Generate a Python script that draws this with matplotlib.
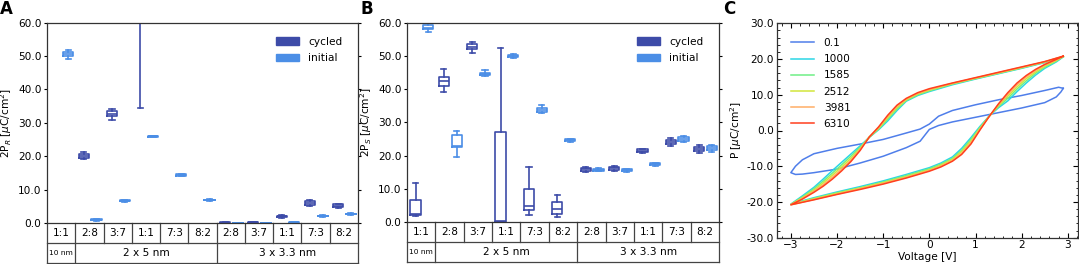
import numpy as np
import matplotlib
matplotlib.use('Agg')
import matplotlib.pyplot as plt
from matplotlib.patches import Patch
from matplotlib.ticker import FormatStrFormatter, AutoMinorLocator, MultipleLocator
import matplotlib.transforms as mtransforms

nan = np.nan

# ---------------- table labels ----------------
ratios = ['1:1', '2:8', '3:7', '1:1', '7:3', '8:2', '2:8', '3:7', '1:1', '7:3', '8:2']
groups = ['10 nm', '2 x 5 nm', '3 x 3.3 nm']
group_sizes = [1, 5, 5]

# ---------------- Panel A: 2P_R ----------------
a_cyc_q1 = [nan, 19.5, 32.0, 70.0, nan, nan, 0.0, 0.1, 1.8, 5.5, 4.9]
a_cyc_med = [nan, 20.0, 32.8, 80.0, nan, nan, 0.1, 0.2, 2.0, 6.0, 5.2]
a_cyc_q3 = [nan, 20.6, 33.5, 90.0, nan, nan, 0.2, 0.3, 2.2, 6.5, 5.6]
a_cyc_lo = [nan, 19.2, 31.0, 34.3, nan, nan, 0.0, 0.0, 1.6, 5.0, 4.5]
a_cyc_hi = [nan, 21.3, 34.2, 120.0, nan, nan, 0.2, 0.4, 2.3, 6.8, 5.8]

a_ini_q1 = [50.0, 0.8, 6.5, 25.9, 14.2, 6.8, 0.0, 0.0, 0.1, 2.0, 2.6]
a_ini_med = [50.5, 1.0, 6.6, 26.0, 14.4, 6.9, 0.05, 0.05, 0.2, 2.1, 2.7]
a_ini_q3 = [51.2, 1.1, 6.8, 26.1, 14.6, 7.0, 0.1, 0.1, 0.25, 2.2, 2.8]
a_ini_lo = [49.2, 0.7, 6.4, 25.8, 14.0, 6.6, 0.0, 0.0, 0.05, 1.9, 2.5]
a_ini_hi = [51.8, 1.2, 6.9, 26.2, 14.8, 7.2, 0.1, 0.1, 0.3, 2.3, 2.9]

# ---------------- Panel B: 2P_S ----------------
b_cyc_q1 = [2.0, 41.0, 52.0, 0.0, 3.5, 2.5, 15.5, 15.8, 21.2, 23.6, 21.5]
b_cyc_med = [2.5, 42.5, 52.7, 0.2, 4.7, 3.9, 16.0, 16.2, 21.5, 24.2, 22.0]
b_cyc_q3 = [6.5, 43.7, 53.5, 27.0, 10.0, 6.0, 16.4, 16.6, 21.9, 24.8, 22.5]
b_cyc_lo = [1.8, 39.0, 50.9, 0.0, 2.2, 1.5, 15.2, 15.5, 20.9, 22.8, 20.8]
b_cyc_hi = [11.8, 46.0, 54.2, 52.3, 16.7, 8.0, 16.7, 16.9, 22.1, 25.4, 23.2]

b_ini_q1 = [58.0, 22.7, 44.2, 49.7, 33.2, 24.3, 15.5, 15.3, 17.1, 24.5, 21.6]
b_ini_med = [58.5, 22.9, 44.6, 50.0, 33.8, 24.6, 15.8, 15.6, 17.4, 25.0, 22.2]
b_ini_q3 = [59.2, 26.2, 45.0, 50.3, 34.3, 24.9, 16.1, 15.9, 17.7, 25.5, 22.8]
b_ini_lo = [57.2, 19.5, 43.9, 49.5, 32.8, 24.1, 15.3, 15.1, 16.9, 24.1, 21.2]
b_ini_hi = [60.0, 27.3, 45.8, 50.5, 35.2, 25.1, 16.3, 16.1, 17.9, 26.0, 23.2]

# ---------------- Panel C: P-V loops ----------------
loop_labels = ['0.1', '1000', '1585', '2512', '3981', '6310']
loop_colors = ['#4F7EEA', '#2BD6E6', '#6FEF86', '#D2E63A', '#FFAE66', '#FF3F1E']

v_up = [2.9, 2.5, 2.0, 1.5, 1.0, 0.5, 0.0, -0.25, -0.5, -0.7, -0.9, -1.1, -1.3, -1.5,
        -1.7, -1.9, -2.1, -2.3, -2.5, -2.75, -3.0]
v_dn = [-3.0, -2.5, -2.0, -1.5, -1.0, -0.5, 0.0, 0.25, 0.5, 0.7, 0.9, 1.1, 1.3, 1.5,
        1.7, 1.9, 2.1, 2.3, 2.5, 2.75, 2.9]

p_up_1000 = [20.6, 19.0, 17.4, 15.9, 14.4, 12.8, 10.9, 9.8, 8.2, 5.6, 2.7, 0.2, -1.9, -4.3,
             -6.6, -8.9, -11.2, -13.6, -15.9, -18.3, -20.6]
p_up_1585 = [20.7, 19.1, 17.5, 16.0, 14.5, 13.0, 11.1, 10.0, 8.4, 6.0, 3.2, 0.4, -1.9, -4.7,
             -7.2, -9.6, -11.9, -14.2, -16.3, -18.6, -20.7]
p_up_2512 = [20.7, 19.2, 17.6, 16.1, 14.6, 13.1, 11.3, 10.2, 8.6, 6.4, 3.6, 0.6, -1.8, -5.0,
             -7.8, -10.2, -12.5, -14.7, -16.7, -18.8, -20.7]
p_up_3981 = [20.8, 19.2, 17.7, 16.2, 14.7, 13.2, 11.5, 10.4, 8.8, 6.8, 4.0, 0.8, -1.8, -5.3,
             -8.3, -10.8, -13.1, -15.2, -17.0, -19.0, -20.8]
p_up_6310 = [20.8, 19.3, 17.8, 16.3, 14.8, 13.3, 11.7, 10.6, 9.0, 7.1, 4.3, 1.0, -1.8, -5.6,
             -8.7, -11.3, -13.6, -15.6, -17.3, -19.2, -20.8]

p_dn_1000 = [-20.6, -18.8, -17.2, -15.7, -14.1, -12.3, -10.4, -9.1, -7.4, -5.0, -2.0, 1.2, 4.1,
             6.4, 8.3, 10.9, 13.3, 15.5, 17.4, 19.2, 20.6]
p_dn_1585 = [-20.7, -19.0, -17.4, -16.0, -14.4, -12.6, -10.7, -9.4, -7.8, -5.5, -2.5, 0.9, 4.1,
             6.7, 9.0, 11.6, 13.9, 16.0, 17.7, 19.4, 20.7]
p_dn_2512 = [-20.7, -19.1, -17.6, -16.1, -14.6, -12.9, -11.0, -9.7, -8.1, -5.9, -3.0, 0.7, 4.0,
             7.0, 9.6, 12.2, 14.5, 16.4, 18.0, 19.6, 20.7]
p_dn_3981 = [-20.8, -19.3, -17.8, -16.3, -14.8, -13.1, -11.2, -10.0, -8.4, -6.4, -3.4, 0.4, 4.0,
             7.3, 10.1, 12.8, 15.0, 16.8, 18.3, 19.8, 20.8]
p_dn_6310 = [-20.8, -19.4, -17.9, -16.5, -15.0, -13.3, -11.4, -10.2, -8.6, -6.7, -3.8, 0.2, 4.0,
             7.5, 10.6, 13.3, 15.4, 17.1, 18.5, 19.9, 20.8]

v_up_01 = [2.9, 2.8, 2.5, 2.0, 1.5, 1.0, 0.5, 0.2, 0.0, -0.2, -0.5, -1.0, -1.5, -2.0, -2.5,
           -2.75, -2.9, -3.0]
p_up_01 = [11.8, 12.1, 11.2, 9.8, 8.6, 7.2, 5.6, 4.0, 1.8, 0.4, -0.7, -2.5, -3.8, -5.0, -6.5,
           -8.2, -10.0, -11.8]
v_dn_01 = [-3.0, -2.9, -2.75, -2.5, -2.0, -1.5, -1.0, -0.5, -0.2, 0.0, 0.2, 0.5, 1.0, 1.5,
           2.0, 2.5, 2.75, 2.85, 2.9]
p_dn_01 = [-11.8, -12.3, -12.2, -11.8, -10.8, -9.1, -7.2, -4.8, -3.0, 0.3, 1.4, 2.4, 3.7, 5.0,
           6.3, 7.8, 9.4, 10.8, 11.8]

# ---------------- styling ----------------
FS = 7.6
C_CYC = '#3D4BA8'
C_INI = '#4B8EE6'
plt.rcParams['font.family'] = ['DejaVu Sans']
plt.rcParams['font.size'] = FS

W, H = 1079, 264
fig = plt.figure(figsize=(W / 100, H / 100), dpi=100)


def px_axes(l, t, r, b):
    return fig.add_axes([l / W, 1 - b / H, (r - l) / W, (b - t) / H])


def stats_list(q1, med, q3, lo, hi):
    out, idx = [], []
    for i in range(len(q1)):
        if np.isnan(med[i]):
            continue
        out.append(dict(q1=q1[i], med=med[i], q3=q3[i], whislo=lo[i], whishi=hi[i], fliers=[]))
        idx.append(i)
    return out, idx


def draw_boxes(ax, arrs, color, offset):
    st, idx = stats_list(*arrs)
    props = dict(color=color, linewidth=1.2)
    ax.bxp(st, positions=[i + offset for i in idx], widths=0.36, showfliers=False,
           boxprops=props, whiskerprops=props, capprops=props, medianprops=props,
           manage_ticks=False)


def box_panel(ax, cyc, ini, ylabel):
    draw_boxes(ax, cyc, C_CYC, -0.2)
    draw_boxes(ax, ini, C_INI, 0.25)
    n = len(ratios)
    ax.set_xlim(-0.5, n - 0.5)
    ax.set_ylim(0, 60)
    ax.set_yticks(np.arange(0, 61, 10))
    ax.yaxis.set_major_formatter(FormatStrFormatter('%.1f'))
    ax.set_xticks([])
    ax.tick_params(axis='y', direction='out', length=2.5, width=0.8, right=True, labelsize=FS, pad=1.5)
    for s in ax.spines.values():
        s.set_linewidth(0.9)
        s.set_color('#333333')
    ax.set_ylabel(ylabel, fontsize=FS, labelpad=3)
    # table beneath
    tr = mtransforms.blended_transform_factory(ax.transData, ax.transAxes)
    lk = dict(color='#444444', lw=0.9, transform=tr, clip_on=False)
    x0, x1 = -0.5, n - 0.5
    ax.plot([x0, x1], [-0.1, -0.1], **lk)
    ax.plot([x0, x1], [-0.2, -0.2], **lk)
    ax.plot([x0, x0], [0, -0.2], **lk)
    ax.plot([x1, x1], [0, -0.2], **lk)
    for k in range(1, n):
        ax.plot([k - 0.5, k - 0.5], [0, -0.1], **lk)
    for i, r in enumerate(ratios):
        ax.text(i, -0.05, r, transform=tr, ha='center', va='center', fontsize=FS)
    start = 0
    for g, sz in zip(groups, group_sizes):
        if start > 0:
            ax.plot([start - 0.5, start - 0.5], [-0.1, -0.2], **lk)
        cx = start + (sz - 1) / 2
        ax.text(cx, -0.15, g, transform=tr, ha='center', va='center',
                fontsize=(5.4 if sz == 1 else FS))
        start += sz
    handles = [Patch(facecolor=C_CYC, edgecolor=C_CYC, label='cycled'),
               Patch(facecolor=C_INI, edgecolor=C_INI, label='initial')]
    ax.legend(handles=handles, loc='upper right', bbox_to_anchor=(0.981, 0.978), frameon=False,
              fontsize=FS, handlelength=2.2, handleheight=0.7, labelspacing=0.6,
              handletextpad=0.9)


axA = px_axes(47, 22.7, 358, 223)
box_panel(axA, (a_cyc_q1, a_cyc_med, a_cyc_q3, a_cyc_lo, a_cyc_hi),
          (a_ini_q1, a_ini_med, a_ini_q3, a_ini_lo, a_ini_hi), r'2P$_R$ [$\mu$C/cm$^2$]')

axB = px_axes(407, 22.7, 719, 222)
box_panel(axB, (b_cyc_q1, b_cyc_med, b_cyc_q3, b_cyc_lo, b_cyc_hi),
          (b_ini_q1, b_ini_med, b_ini_q3, b_ini_lo, b_ini_hi), r'2P$_S$ [$\mu$C/cm$^2$]')

axC = px_axes(777, 23.3, 1078, 237.7)
loops_up = [p_up_1000, p_up_1585, p_up_2512, p_up_3981, p_up_6310]
loops_dn = [p_dn_1000, p_dn_1585, p_dn_2512, p_dn_3981, p_dn_6310]
axC.plot(v_up_01 + v_dn_01, p_up_01 + p_dn_01, color=loop_colors[0], lw=1.1, label=loop_labels[0])
for k in range(5):
    axC.plot(v_up + v_dn, loops_up[k] + loops_dn[k], color=loop_colors[k + 1], lw=1.1,
             label=loop_labels[k + 1])
axC.set_xlim(-3.3, 3.22)
axC.set_ylim(-30, 30)
axC.set_xticks(np.arange(-3, 4, 1))
axC.set_yticks(np.arange(-30, 31, 10))
axC.yaxis.set_major_formatter(FormatStrFormatter('%.1f'))
axC.xaxis.set_minor_locator(AutoMinorLocator(5))
axC.yaxis.set_minor_locator(AutoMinorLocator(5))
axC.tick_params(which='both', direction='in', top=True, right=True, labelsize=FS)
axC.tick_params(which='major', length=3.5, width=0.8, pad=2)
axC.tick_params(which='minor', length=1.8, width=0.6)
for s in axC.spines.values():
    s.set_linewidth(0.9)
    s.set_color('#333333')
axC.set_xlabel('Voltage [V]', fontsize=FS, labelpad=1)
axC.set_ylabel(r'P [$\mu$C/cm$^2$]', fontsize=FS, labelpad=2)
axC.legend(loc='upper left', bbox_to_anchor=(0.015, 0.975), frameon=False, fontsize=FS,
           handlelength=2.2, labelspacing=0.58, handletextpad=0.9)

for lab, x in [('A', 0), ('B', 361), ('C', 723)]:
    fig.text(x / W, 1.0, lab, ha='left', va='top', fontsize=12, fontweight='bold')

fig.savefig('out.png', dpi=100)
